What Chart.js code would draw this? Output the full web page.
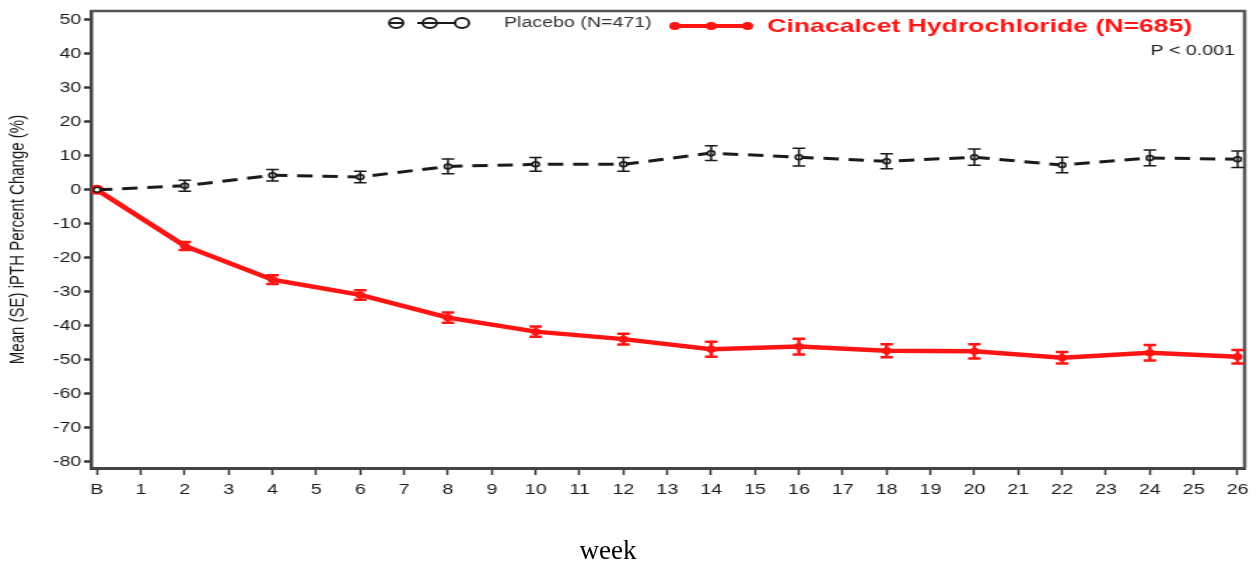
<!DOCTYPE html>
<html>
<head>
<meta charset="utf-8">
<title>Mean (SE) iPTH Percent Change</title>
<script src="https://cdn.jsdelivr.net/npm/chart.js@4.4.1/dist/chart.umd.min.js"></script>
<style>
    html, body {
        margin: 0;
        padding: 0;
        background: #ffffff;
    }
    #wrap {
        position: relative;
        width: 1260px;
        height: 565px;
        overflow: hidden;
    }
    #chart {
        position: absolute;
        left: 0;
        top: 0;
    }
    #weekLabel {
        position: absolute;
        left: 0;
        width: 1216px;
        top: 535px;
        line-height: 30px;
        text-align: center;
        font-family: 'Liberation Serif', 'Times New Roman', serif;
        font-size: 27px;
        color: #000;
    }
</style>
</head>
<body>
<div id="wrap">
    <!-- the source figure is stretched sideways, so the canvas is drawn narrower and widened by css -->
    <canvas id="chart" width="900" height="565" style="width:1260px;height:565px"></canvas>
    <div id="weekLabel">week</div>
</div>
<script>
// data (weeks from baseline B)
const weeks = [0, 2, 4, 6, 8, 10, 12, 14, 16, 18, 20, 22, 24, 26];
const placeboMean = [0, 1.2, 4.3, 3.8, 6.9, 7.5, 7.5, 10.8, 9.6, 8.4, 9.6, 7.3, 9.4, 9.0];
const placeboSE = [0, 1.6, 1.7, 1.7, 2.2, 2.0, 2.0, 2.2, 2.6, 2.2, 2.4, 2.3, 2.3, 2.4];
const cinaMean = [0, -16.5, -26.4, -30.9, -37.6, -41.7, -43.9, -46.9, -46.1, -47.3, -47.5, -49.4, -47.9, -49.1];
const cinaSE = [0, 1.2, 1.3, 1.4, 1.5, 1.5, 1.6, 2.2, 2.3, 1.9, 2.1, 1.7, 2.3, 2.0];

const xTickValues = [0, 1, 2, 3, 4, 5, 6, 7, 8, 9, 10, 11, 12, 13, 14, 15, 16, 17, 18, 19, 20, 21, 22, 23, 24, 25, 26];
const xTickLabels = ['B', '1', '2', '3', '4', '5', '6', '7', '8', '9', '10', '11', '12', '13',
    '14', '15', '16', '17', '18', '19', '20', '21', '22', '23', '24', '25', '26'];
const yTickValues = [-80, -70, -60, -50, -40, -30, -20, -10, 0, 10, 20, 30, 40, 50];

const placeboLabel = 'Placebo (N=471)';
const cinaLabel = 'Cinacalcet Hydrochloride (N=685)';
const pValueText = 'P < 0.001';

const RED = '#ff1414';
const INK = '#1a1a1a';

Chart.defaults.font.family = "'Liberation Sans', Arial, sans-serif";
Chart.defaults.color = INK;

// vertical SE bars with caps
const errorBarPlugin = {
    id: 'errorBars',
    afterDatasetsDraw(chart) {
        const { ctx, scales } = chart;
        chart.data.datasets.forEach((ds) => {
            if (!ds.errors) return;
            ctx.save();
            ctx.strokeStyle = ds.borderColor;
            ctx.lineWidth = ds.errorWidth;
            ctx.setLineDash([]);
            ds.data.forEach((pt, i) => {
                const se = ds.errors[i];
                if (!se) return;
                const px = scales.x.getPixelForValue(pt.x);
                const top = scales.y.getPixelForValue(pt.y + se);
                const bot = scales.y.getPixelForValue(pt.y - se);
                const cap = 4.5;
                ctx.beginPath();
                ctx.moveTo(px, top);
                ctx.lineTo(px, bot);
                ctx.moveTo(px - cap, top);
                ctx.lineTo(px + cap, top);
                ctx.moveTo(px - cap, bot);
                ctx.lineTo(px + cap, bot);
                ctx.stroke();
            });
            ctx.restore();
        });
    }
};

// top and right edges of the plot box
const framePlugin = {
    id: 'frame',
    beforeDatasetsDraw(chart) {
        const { ctx, chartArea } = chart;
        ctx.save();
        ctx.strokeStyle = '#555';
        ctx.lineWidth = 2.5;
        ctx.beginPath();
        ctx.moveTo(chartArea.left, chartArea.top);
        ctx.lineTo(chartArea.right, chartArea.top);
        ctx.lineTo(chartArea.right, chartArea.bottom);
        ctx.stroke();
        ctx.restore();
    }
};

// legend row at the top of the plot, plus the p-value
const legendPlugin = {
    id: 'trialLegend',
    afterDraw(chart) {
        const ctx = chart.ctx;
        ctx.save();

        // placebo sample: open circles crossed by the line
        const py = 23;
        const pxs = [283, 307, 330];
        ctx.fillStyle = '#fff';
        ctx.strokeStyle = INK;
        ctx.lineWidth = 1.8;
        pxs.forEach((x) => {
            ctx.beginPath();
            ctx.arc(x, py, 5, 0, Math.PI * 2);
            ctx.fill();
            ctx.stroke();
        });
        ctx.lineWidth = 2;
        ctx.beginPath();
        ctx.moveTo(pxs[0] - 5, py);
        ctx.lineTo(pxs[0] + 5, py);
        ctx.moveTo(pxs[1] - 9, py);
        ctx.lineTo(pxs[2] - 5, py);
        ctx.stroke();

        ctx.fillStyle = '#333';
        ctx.font = "14px 'Liberation Sans', Arial, sans-serif";
        ctx.textBaseline = 'middle';
        ctx.textAlign = 'left';
        ctx.fillText(placeboLabel, 360, py);

        // cinacalcet sample: solid red line with dots
        const cy = 26;
        const cxs = [482, 508, 534];
        ctx.strokeStyle = RED;
        ctx.fillStyle = RED;
        ctx.lineWidth = 4;
        ctx.beginPath();
        ctx.moveTo(cxs[0], cy);
        ctx.lineTo(cxs[2], cy);
        ctx.stroke();
        cxs.forEach((x) => {
            ctx.beginPath();
            ctx.arc(x, cy, 4, 0, Math.PI * 2);
            ctx.fill();
        });

        ctx.font = "bold 19px 'Liberation Sans', Arial, sans-serif";
        ctx.fillText(cinaLabel, 548, cy + 1);

        ctx.fillStyle = INK;
        ctx.font = "14px 'Liberation Sans', Arial, sans-serif";
        ctx.textAlign = 'right';
        ctx.fillText(pValueText, 882, 51);

        ctx.restore();
    }
};

const ctx = document.getElementById('chart').getContext('2d');

new Chart(ctx, {
    type: 'line',
    data: {
        datasets: [
            {
                label: placeboLabel,
                data: weeks.map((w, i) => ({ x: w, y: placeboMean[i] })),
                errors: placeboSE,
                errorWidth: 1.5,
                borderColor: INK,
                backgroundColor: '#fff',
                borderWidth: 3,
                borderDash: [11, 7],
                pointRadius: 2.5,
                pointBorderWidth: 1.5,
                tension: 0
            },
            {
                label: cinaLabel,
                data: weeks.map((w, i) => ({ x: w, y: cinaMean[i] })),
                errors: cinaSE,
                errorWidth: 2.5,
                borderColor: RED,
                backgroundColor: RED,
                borderWidth: 4.5,
                pointRadius: (c) => (c.dataIndex === 0 ? 5 : 3.5),
                pointBorderWidth: 0,
                tension: 0
            }
        ]
    },
    options: {
        responsive: false,
        devicePixelRatio: 1,
        animation: false,
        events: [],
        layout: {
            padding: { top: 11, right: 11, left: 0, bottom: 0 }
        },
        plugins: {
            legend: { display: false },
            tooltip: { enabled: false }
        },
        scales: {
            x: {
                type: 'linear',
                min: -0.137,
                max: 26.16,
                afterBuildTicks: (axis) => {
                    axis.ticks = xTickValues.map((v) => ({ value: v }));
                },
                afterFit: (axis) => {
                    axis.height = 97;
                },
                ticks: {
                    autoSkip: false,
                    maxRotation: 0,
                    padding: 7,
                    color: INK,
                    font: { size: 14 },
                    callback: (value, index) => xTickLabels[index]
                },
                grid: {
                    drawOnChartArea: false,
                    tickLength: 7,
                    tickWidth: 1.5,
                    tickColor: '#333'
                },
                border: { color: '#444', width: 3 }
            },
            y: {
                min: -81.8,
                max: 52.6,
                afterBuildTicks: (axis) => {
                    axis.ticks = yTickValues.map((v) => ({ value: v }));
                },
                afterFit: (axis) => {
                    axis.width = 65;
                },
                ticks: {
                    padding: 2,
                    color: INK,
                    font: { size: 14 }
                },
                grid: {
                    drawOnChartArea: false,
                    tickLength: 5,
                    tickWidth: 2.5,
                    tickColor: '#333'
                },
                border: { color: '#444', width: 2.5 },
                title: {
                    display: true,
                    text: 'Mean (SE) iPTH Percent Change (%)',
                    color: INK,
                    font: { size: 15 },
                    padding: { top: 4, bottom: 0 }
                }
            }
        }
    },
    plugins: [framePlugin, errorBarPlugin, legendPlugin]
});
</script>
</body>
</html>
